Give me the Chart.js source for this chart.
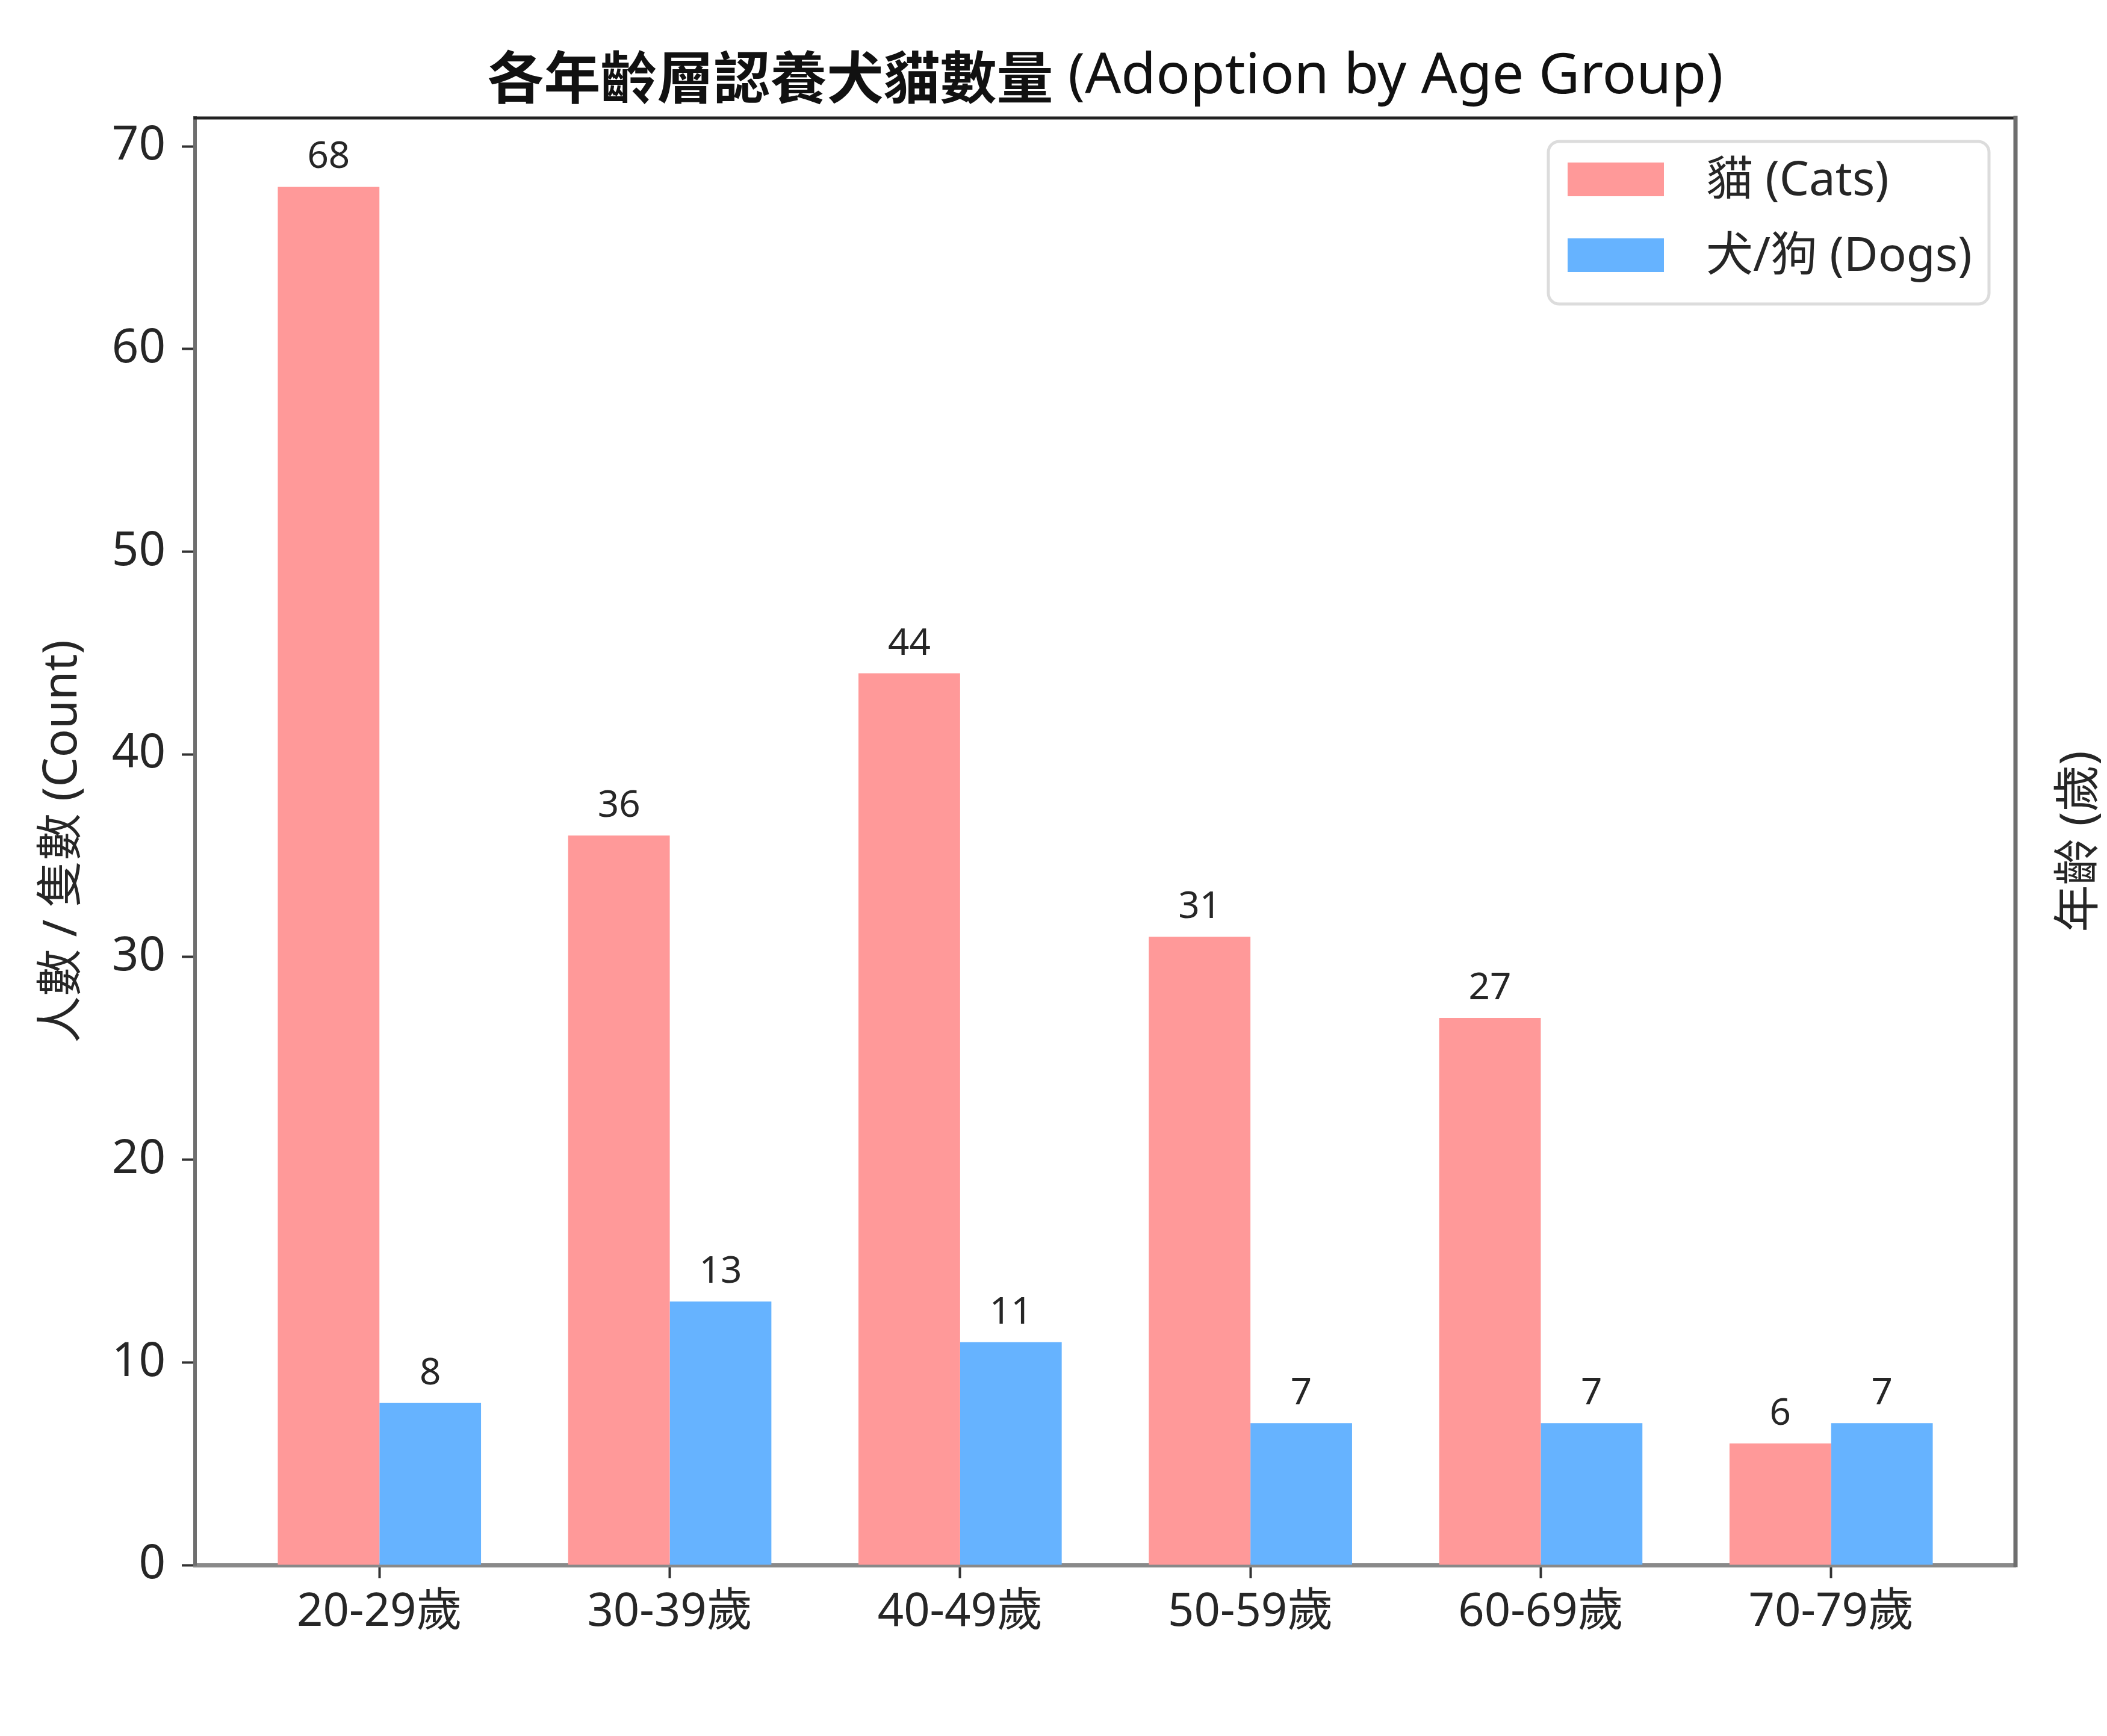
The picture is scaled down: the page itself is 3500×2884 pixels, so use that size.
<!DOCTYPE html>
<html lang="zh-Hant">
<head>
<meta charset="utf-8">
<title>各年齡層認養犬貓數量</title>
<script src="https://cdn.jsdelivr.net/npm/chart.js@4.4.1/dist/chart.umd.min.js"></script>
<style>
    html, body { margin: 0; padding: 0; background: #fff; }
    #wrap { width: 3500px; height: 2884px; }
</style>
</head>
<body>
<div id="wrap"><canvas id="adoptionChart" width="3500" height="2884"></canvas></div>
<script>
// Values
const ageGroups = ['20-29歲', '30-39歲', '40-49歲', '50-59歲', '60-69歲', '70-79歲'];
const catCounts = [68, 36, 44, 31, 27, 6];
const dogCounts = [8, 13, 11, 7, 7, 7];
const seriesNames = ['貓 (Cats)', '犬/狗 (Dogs)'];
const seriesColors = ['#ff9999', '#66b3ff'];
const yMax = 71.4;
const yStep = 10;

const titleCjk = '各年齡層認養犬貓數量';
const titleLatin = ' (Adoption by Age Group)';
const yTitle = '人數 / 隻數 (Count)';
const rightTitle = '年齡 (歲)';

const baseFont = "'Noto Sans', 'Noto Sans CJK TC', sans-serif";
const textColor = '#262626';

Chart.defaults.font.family = baseFont;
Chart.defaults.color = textColor;

// Title, value labels, frame, legend and the right-hand label
const decorPlugin = {
    id: 'decor',
    afterDatasetsDraw(chart) {
        const ctx = chart.ctx;
        ctx.save();
        ctx.font = `62px ${baseFont}`;
        ctx.fillStyle = textColor;
        ctx.textAlign = 'center';
        ctx.textBaseline = 'alphabetic';
        chart.data.datasets.forEach((ds, di) => {
            chart.getDatasetMeta(di).data.forEach((bar, i) => {
                ctx.fillText(String(ds.data[i].y), bar.x, bar.y - 31);
            });
        });
        ctx.restore();
    },
    afterDraw(chart) {
        const ctx = chart.ctx;
        const a = chart.chartArea;
        ctx.save();

        // top and right spines
        ctx.lineCap = 'square';
        ctx.strokeStyle = '#222';
        ctx.lineWidth = 5;
        ctx.beginPath();
        ctx.moveTo(a.left, a.top);
        ctx.lineTo(a.right, a.top);
        ctx.stroke();
        ctx.strokeStyle = '#6e6e6e';
        ctx.lineWidth = 7;
        ctx.beginPath();
        ctx.moveTo(a.right, a.top);
        ctx.lineTo(a.right, a.bottom);
        ctx.stroke();

        // legend box
        const lw = 732, lh = 270;
        const lx = a.right - 44 - lw, ly = a.top + 39;
        ctx.fillStyle = 'rgba(255,255,255,0.85)';
        ctx.strokeStyle = '#dcdcdc';
        ctx.lineWidth = 5;
        ctx.beginPath();
        ctx.roundRect(lx, ly, lw, lh, 18);
        ctx.fill();
        ctx.stroke();
        ctx.font = `78px ${baseFont}`;
        ctx.textAlign = 'left';
        ctx.textBaseline = 'middle';
        chart.data.datasets.forEach((ds, i) => {
            const cy = ly + 63 + i * 126;
            ctx.fillStyle = ds.backgroundColor;
            ctx.fillRect(lx + 32, cy - 28, 160, 56);
            ctx.fillStyle = textColor;
            ctx.fillText(ds.label, lx + 262, cy + 4);
        });

        // chart title: bold CJK, regular Latin
        ctx.textBaseline = 'middle';
        ctx.fillStyle = '#111';
        ctx.font = "bold 94px 'Noto Sans CJK TC', sans-serif";
        const w1 = ctx.measureText(titleCjk).width;
        ctx.font = `94px ${baseFont}`;
        const w2 = ctx.measureText(titleLatin).width;
        let tx = (a.left + a.right) / 2 - (w1 + w2) / 2;
        ctx.font = "bold 94px 'Noto Sans CJK TC', sans-serif";
        ctx.fillText(titleCjk, tx, 128);
        ctx.font = `94px ${baseFont}`;
        ctx.fillText(titleLatin, tx + w1, 128);

        // label on the right side, reading bottom to top
        ctx.translate(3456, (a.top + a.bottom) / 2);
        ctx.rotate(-Math.PI / 2);
        ctx.textAlign = 'center';
        ctx.fillStyle = textColor;
        ctx.font = `78px ${baseFont}`;
        ctx.fillText(rightTitle, 0, 0);

        ctx.restore();
    }
};

const ctx = document.getElementById('adoptionChart').getContext('2d');
const adoptionChart = new Chart(ctx, {
    type: 'bar',
    data: {
        datasets: [{
            label: seriesNames[0],
            data: catCounts.map((v, i) => ({ x: i, y: v })),
            backgroundColor: seriesColors[0],
            borderWidth: 0
        }, {
            label: seriesNames[1],
            data: dogCounts.map((v, i) => ({ x: i, y: v })),
            backgroundColor: seriesColors[1],
            borderWidth: 0
        }]
    },
    options: {
        responsive: false,
        animation: false,
        devicePixelRatio: 1,
        categoryPercentage: 0.7,
        barPercentage: 1.0,
        layout: {
            padding: { top: 196, right: 152, bottom: 134, left: 0 }
        },
        plugins: {
            legend: { display: false },
            title: { display: false },
            tooltip: { enabled: false }
        },
        scales: {
            x: {
                type: 'linear',
                min: -0.635,
                max: 5.635,
                offset: false,
                z: 1,
                afterFit: scale => { scale.height = 150; },
                afterBuildTicks: scale => {
                    scale.ticks = ageGroups.map((_, i) => ({ value: i }));
                },
                ticks: {
                    autoSkip: false,
                    maxRotation: 0,
                    padding: 12,
                    font: { size: 76 },
                    color: textColor,
                    callback: value => ageGroups[value]
                },
                grid: {
                    display: true,
                    drawOnChartArea: false,
                    drawTicks: true,
                    tickLength: 22,
                    tickWidth: 4,
                    tickColor: '#333',
                    offset: false
                },
                border: { display: true, color: 'rgba(40,40,40,0.55)', width: 7 }
            },
            y: {
                min: 0,
                max: yMax,
                afterFit: scale => { scale.width = 324; },
                ticks: {
                    stepSize: yStep,
                    includeBounds: false,
                    padding: 27,
                    font: { size: 78 },
                    color: textColor
                },
                grid: {
                    display: true,
                    drawOnChartArea: false,
                    drawTicks: true,
                    tickLength: 22,
                    tickWidth: 4,
                    tickColor: '#333'
                },
                border: { display: true, color: '#6e6e6e', width: 6 },
                title: {
                    display: true,
                    text: yTitle,
                    font: { size: 78 },
                    color: textColor,
                    padding: { top: 58, bottom: 0 }
                }
            }
        }
    },
    plugins: [decorPlugin]
});
</script>
</body>
</html>
